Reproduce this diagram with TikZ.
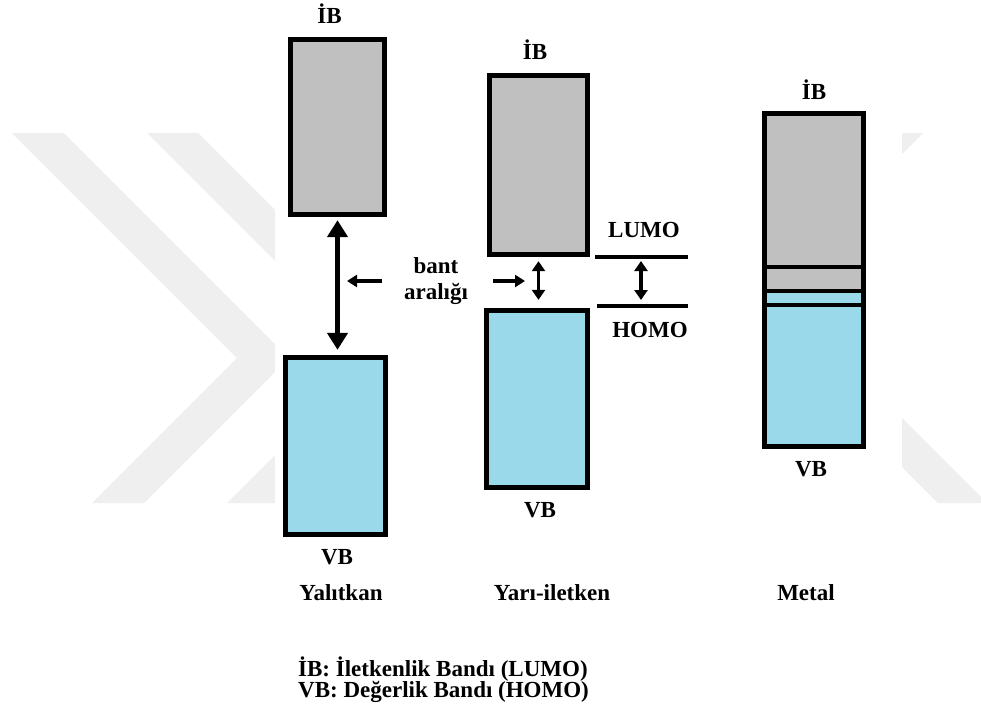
\documentclass[tikz,border=0pt]{standalone}
\usepackage{fontspec}
\setmainfont{Liberation Serif}
\usepackage{tikz}
\usetikzlibrary{
    positioning,
    arrows.meta
}
\definecolor{ibgray}{HTML}{C0C0C0}
\definecolor{vbcyan}{HTML}{99D9EA}
\definecolor{wmgray}{HTML}{EFEFEF}
\tikzset{
    >=Triangle,
    ibband/.style={
        draw,
        fill=ibgray,
        line width=4.8pt,
        inner sep=0pt,
        outer sep=0pt
    },
    vbband/.style={
        ibband,
        fill=vbcyan
    },
    lbl/.style={
        inner sep=0pt,
        font=\bfseries\fontsize{23}{21}\selectfont
    },
    gapbig/.style={
        <->,
        line width=5.5pt,
        >={Triangle[width=20pt,length=17pt]}
    },
    gapsmall/.style={
        <->,
        line width=3.8pt,
        >={Triangle[width=13pt,length=10pt]}
    },
    pointer/.style={
        ->,
        line width=3.8pt,
        >={Triangle[width=12pt,length=10pt]}
    },
    level/.style={
        line width=3.6pt
    }
}

\begin{document}
\begin{tikzpicture}[
    x=1pt,
    y=-1pt
]

    \useasboundingbox (0,0) rectangle (981,717);
    \fill[white] (0,0) rectangle (981,717);

    % Filigran
    \fill[wmgray] (12,133) -- (64,133) -- (289,358) -- (144,503) -- (92,503) -- (237,358) -- cycle;
    \fill[wmgray] (147,133) -- (198,133) -- (423,358) -- (278,503) -- (227,503) -- (372,358) -- cycle;
    \fill[wmgray] (873,133) -- (923,133) -- (770,286) -- (987,503) -- (938,503) -- (720,286) -- cycle;
    \fill[white] (275,110) rectangle (902,530);

    % Yalitkan
    \node[ibband, minimum width=94.5pt, minimum height=175.5pt] (insIB) at (337.5,127) {};
    \node[vbband, minimum width=100.5pt, minimum height=177.5pt] (insVB) at (335.5,446) {};

    % Yari-iletken
    \node[ibband, minimum width=98.5pt, minimum height=179.5pt] (semIB) at (538.5,165) {};
    \node[vbband, minimum width=101.5pt, minimum height=177.5pt] (semVB) at (537,399) {};

    % Metal
    \node[ibband, minimum width=99.5pt, minimum height=153.75pt] (metIB) at (814,190.1) {};
    \node[ibband, minimum width=99.5pt, minimum height=24pt, below=0pt of metIB] (metIBb) {};
    \node[vbband, minimum width=99.5pt, minimum height=14pt, below=0pt of metIBb] (metVBb) {};
    \node[vbband, minimum width=99.5pt, minimum height=141.75pt, below=0pt of metVBb] (metVB) {};

    % Etiketler
    \node[lbl, above=15pt of insIB.north, xshift=-8pt] (insIBl) {İB};
    \node[lbl, above=15pt of semIB.north, xshift=-3.5pt] (semIBl) {İB};
    \node[lbl, above=13.5pt of metIB.north] (metIBl) {İB};

    \node[lbl, below=14pt of insVB.south, xshift=1.5pt] (insVBl) {VB};
    \node[lbl, below=14pt of semVB.south, xshift=3pt] (semVBl) {VB};
    \node[lbl, below=15pt of metVB.south, xshift=-3pt] (metVBl) {VB};

    \node[lbl, anchor=base] (insName) at (341,600) {Yalıtkan};
    \node[lbl, anchor=base] (semName) at (552,600) {Yarı-iletken};
    \node[lbl, anchor=base] (metName) at (806,600) {Metal};

    % LUMO / HOMO
    \coordinate (lumoA) at (595,257);
    \coordinate (lumoM) at (641,257);
    \coordinate (lumoB) at (688,257);
    \coordinate (homoA) at (597,306);
    \coordinate (homoM) at (641,306);
    \coordinate (homoB) at (688,306);
    \draw[level] (lumoA) -- (lumoB);
    \draw[level] (homoA) -- (homoB);
    \node[lbl, anchor=base] (lumoText) at (644,237) {LUMO};
    \node[lbl, anchor=base] (homoText) at (650,337) {HOMO};

    % Bant araligi
    \node[lbl, align=center, font=\bfseries\fontsize{23}{26}\selectfont] (gapText) at (436,281) {bant\\aralığı};

    \draw[gapbig, shorten <=5.4pt, shorten >=7.4pt]
        (insIB.south) -- (insIB.south |- insVB.north);
    \draw[gapsmall, shorten <=6.4pt, shorten >=10.4pt]
        (semIB.south) -- (semIB.south |- semVB.north);
    \draw[gapsmall, shorten <=4pt, shorten >=6pt]
        (lumoM) -- (homoM);

    \draw[pointer, shorten <=22pt, shorten >=9.5pt]
        (gapText.west) -- (gapText.west -| insIB.south);
    \draw[pointer, shorten <=25pt, shorten >=13.5pt]
        (gapText.east) -- (gapText.east -| semIB.south);

    % Aciklama
    \node[lbl, anchor=base west] (legIB) at (298,676) {İB: İletkenlik Bandı (LUMO)};
    \node[lbl, anchor=base west] (legVB) at (298,697) {VB: Değerlik Bandı (HOMO)};

\end{tikzpicture}
\end{document}
